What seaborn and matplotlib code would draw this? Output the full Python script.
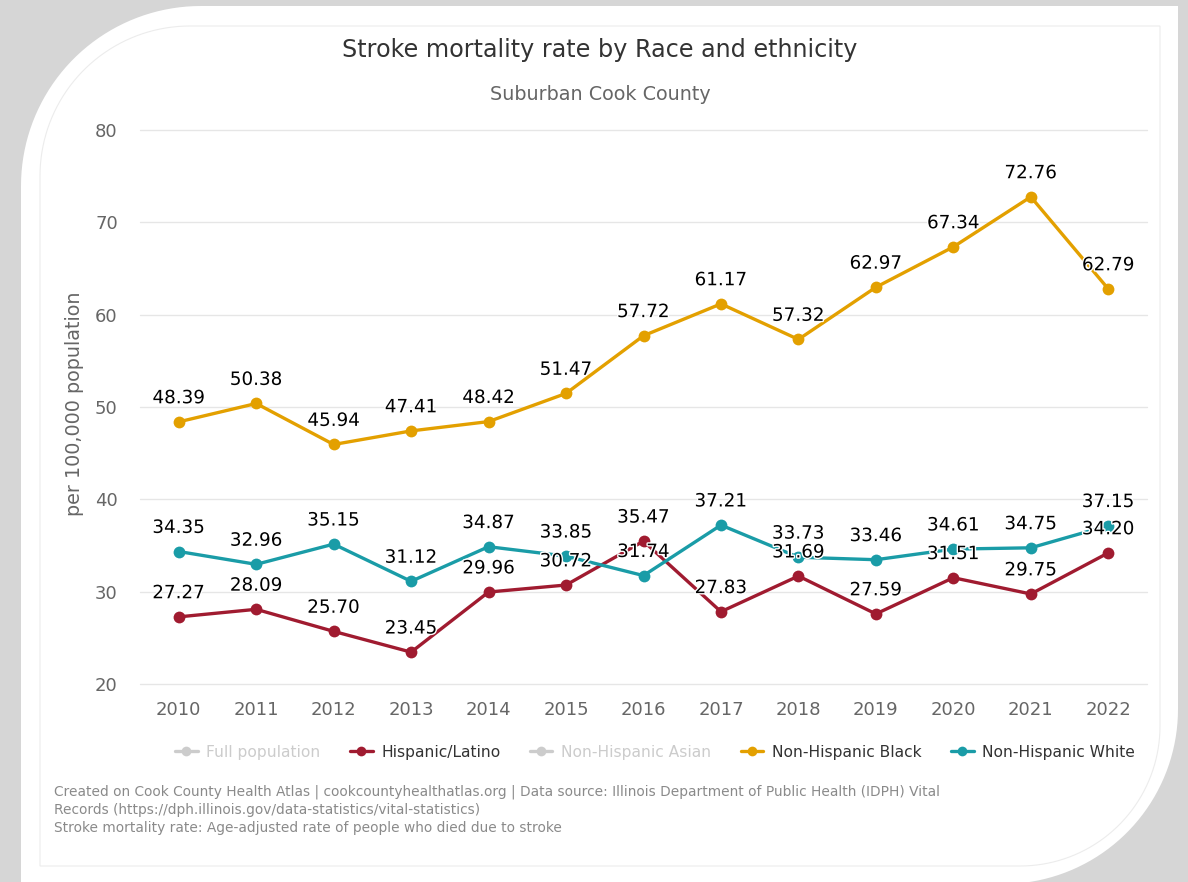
import numpy as np
import pandas as pd
import matplotlib
matplotlib.use("Agg")
import matplotlib.pyplot as plt
import matplotlib.patheffects as pe
from matplotlib.path import Path
from matplotlib.patches import PathPatch
from matplotlib.lines import Line2D
import seaborn as sns

# ---------------- data ----------------
years = [2010, 2011, 2012, 2013, 2014, 2015, 2016, 2017, 2018, 2019, 2020, 2021, 2022]
hispanic = [27.27, 28.09, 25.70, 23.45, 29.96, 30.72, 35.47, 27.83, 31.69, 27.59, 31.51, 29.75, 34.20]
nh_black = [48.39, 50.38, 45.94, 47.41, 48.42, 51.47, 57.72, 61.17, 57.32, 62.97, 67.34, 72.76, 62.79]
nh_white = [34.35, 32.96, 35.15, 31.12, 34.87, 33.85, 31.74, 37.21, 33.73, 33.46, 34.61, 34.75, 37.15]
legend_names = ["Full population", "Hispanic/Latino", "Non-Hispanic Asian",
                "Non-Hispanic Black", "Non-Hispanic White"]
title = "Stroke mortality rate by Race and ethnicity"
subtitle = "Suburban Cook County"
ylabel = "per 100,000 population"
footer = [
    "Created on Cook County Health Atlas | cookcountyhealthatlas.org | Data source: Illinois Department of Public Health (IDPH) Vital",
    "Records (https://dph.illinois.gov/data-statistics/vital-statistics)",
    "Stroke mortality rate: Age-adjusted rate of people who died due to stroke",
]

colors = {
    "Hispanic/Latino": "#A01B30",
    "Non-Hispanic Black": "#E3A000",
    "Non-Hispanic White": "#1A9CA7",
}
hidden_color = "#cccccc"

df = pd.concat([
    pd.DataFrame({"year": years, "value": hispanic, "series": "Hispanic/Latino"}),
    pd.DataFrame({"year": years, "value": nh_black, "series": "Non-Hispanic Black"}),
    pd.DataFrame({"year": years, "value": nh_white, "series": "Non-Hispanic White"}),
], ignore_index=True)

# ---------------- style ----------------
sns.set_style("white")
plt.rcParams["font.family"] = ["DejaVu Sans"]

W, H = 1188, 882
fig = plt.figure(figsize=(W / 100, H / 100), dpi=100)
fig.patch.set_facecolor("#d6d6d6")


def card_path(x0, y0, x1, y1, r_tl, r_br, n=40):
    """Rounded card in pixel coords (y down): rounded TL and BR corners."""
    pts = []
    pts.append((x0 + r_tl, y0))
    pts.append((x1, y0))                 # TR square
    pts.append((x1, y1 - r_br))
    cx, cy = x1 - r_br, y1 - r_br
    for t in np.linspace(0, np.pi / 2, n):
        pts.append((cx + r_br * np.cos(t), cy + r_br * np.sin(t)))
    pts.append((x0, y1))                 # BL square
    pts.append((x0, y0 + r_tl))
    cx, cy = x0 + r_tl, y0 + r_tl
    for t in np.linspace(np.pi, 1.5 * np.pi, n):
        pts.append((cx + r_tl * np.cos(t), cy + r_tl * np.sin(t)))
    pts = [(px / W, 1 - py / H) for px, py in pts]
    pts.append(pts[0])
    codes = [Path.MOVETO] + [Path.LINETO] * (len(pts) - 2) + [Path.CLOSEPOLY]
    return Path(pts, codes)


fig.patches.append(PathPatch(card_path(21, 6, 1178, 884, 180, 175),
                             facecolor="white", edgecolor="none",
                             transform=fig.transFigure, zorder=-10))
fig.patches.append(PathPatch(card_path(40, 26, 1160, 866, 150, 140),
                             facecolor="none", edgecolor="#ececec", lw=0.8,
                             transform=fig.transFigure, zorder=-9))

ax = fig.add_axes([140 / W, 1 - 684 / H, 1007 / W, 554 / H])
ax.set_facecolor("none")
ax.set_zorder(1)

sns.lineplot(data=df, x="year", y="value", hue="series", palette=colors,
             marker="o", markersize=8.5, markeredgewidth=0, linewidth=2.4,
             legend=False, ax=ax, zorder=3)

# data labels
for name, vals in [("Hispanic/Latino", hispanic), ("Non-Hispanic Black", nh_black),
                   ("Non-Hispanic White", nh_white)]:
    for x, v in zip(years, vals):
        ax.annotate(f"{v:.2f}", (x, v), xytext=(0, 17), textcoords="offset points",
                    ha="center", va="center", fontsize=13.2, color="#000000",
                    zorder=5,
                    path_effects=[pe.withStroke(linewidth=2, foreground="white")])

ax.set_xlim(2009.5, 2022.5)
ax.set_ylim(20, 80)
ax.set_xticks(years)
ax.set_xticklabels([str(y) for y in years])
ax.set_yticks(range(20, 81, 10))
ax.tick_params(axis="x", length=0, pad=12, labelsize=13, labelcolor="#666666")
ax.tick_params(axis="y", length=0, pad=16, labelsize=13, labelcolor="#666666")
ax.grid(axis="y", color="#e6e6e6", lw=1)
ax.grid(axis="x", visible=False)
ax.set_axisbelow(True)
for gl in ax.get_ygridlines():
    gl.set_clip_on(False)
for s in ax.spines.values():
    s.set_visible(False)
ax.set_xlabel("")
ax.set_ylabel("")

fig.text(75 / W, 1 - 404 / H, ylabel, rotation=90, ha="center", va="center",
         fontsize=13.8, color="#666666")

fig.text(600 / W, 1 - 50 / H, title, ha="center", va="center",
         fontsize=17.2, color="#333333")
fig.text(600 / W, 1 - 95 / H, subtitle, ha="center", va="center",
         fontsize=13.8, color="#666666")

# legend
handle_colors = [hidden_color, colors["Hispanic/Latino"], hidden_color,
                 colors["Non-Hispanic Black"], colors["Non-Hispanic White"]]
handles = [Line2D([0], [0], color=c, lw=2.4, marker="o", markersize=7,
                  markeredgewidth=0) for c in handle_colors]
leg = fig.legend(handles, legend_names, ncol=5, loc="center",
                 bbox_to_anchor=(655 / W, 1 - 752 / H), frameon=False,
                 fontsize=11.2, handlelength=1.45, handletextpad=0.55,
                 columnspacing=1.9)
for t, c in zip(leg.get_texts(), handle_colors):
    t.set_color("#cccccc" if c == hidden_color else "#333333")

for i, line in enumerate(footer):
    fig.text(54 / W, 1 - (792 + 18 * i) / H, line, ha="left", va="center",
             fontsize=9.9, color="#8a8a8a")

fig.savefig("out.png", dpi=100, facecolor=fig.get_facecolor())
